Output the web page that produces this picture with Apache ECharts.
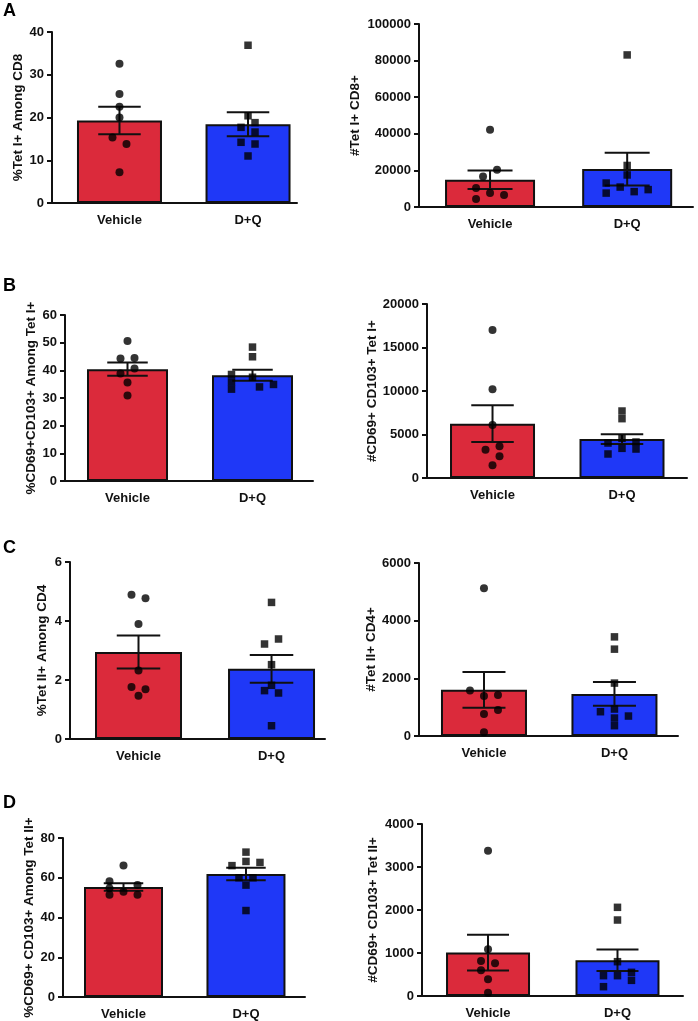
<!DOCTYPE html>
<html>
<head>
<meta charset="utf-8">
<script src="https://cdn.jsdelivr.net/npm/echarts@6/dist/echarts.min.js"></script>
<style>
html,body{margin:0;padding:0;background:#fff;}
#chart{width:698px;height:1021px;}
</style>
</head>
<body>
<div id="chart"></div>
<script>
// ---------- DATA ----------
const categories = ['Vehicle', 'D+Q'];
const panelLetters = ['A', 'B', 'C', 'D'];

// Panel A left
const aL_title = '%Tet I+ Among CD8';
const aL_mean = [19.3, 18.4];
const aL_sem = [3.2, 2.8];
const aL_veh = [32.6, 25.5, 22.5, 20.0, 15.3, 13.8, 7.2];
const aL_vehSlot = [0, 0, 0, 0, -1, 1, 0];
const aL_dq = [36.9, 20.4, 18.8, 17.7, 16.6, 14.2, 13.8, 11.0];
const aL_dqSlot = [0, 0, 1, -1, 1, -1, 1, 0];
const aL_yMax = 40, aL_yStep = 10;

// Panel A right
const aR_title = '#Tet I+ CD8+';
const aR_mean = [14900, 20700];
const aR_sem = [5000, 9000];
const aR_veh = [42200, 20400, 16700, 10400, 7600, 6500, 4400];
const aR_vehSlot = [0, 1, -1, -2, 0, 2, -2];
const aR_dq = [83100, 22700, 17500, 13100, 10900, 9500, 8400, 7600];
const aR_dqSlot = [0, 0, 0, -3, -1, 3, 1, -3];
const aR_yMax = 100000, aR_yStep = 20000;

// Panel B left
const bL_title = '%CD69+CD103+ Among Tet I+';
const bL_mean = [40.4, 38.2];
const bL_sem = [2.4, 2.0];
const bL_veh = [50.6, 44.3, 44.5, 40.7, 38.9, 35.6, 30.9];
const bL_vehSlot = [0, -1, 1, 1, -1, 0, 0];
const bL_dq = [48.4, 44.9, 38.5, 35.8, 33.2, 37.5, 34.0, 34.9];
const bL_dqSlot = [0, 0, -3, -3, -3, 0, 1, 3];
const bL_yMax = 60, bL_yStep = 10;

// Panel B right
const bR_title = '#CD69+ CD103+ Tet I+';
const bR_mean = [6250, 4480];
const bR_sem = [2100, 560];
const bR_veh = [17000, 10200, 6100, 3640, 3260, 2490, 1460];
const bR_vehSlot = [0, 0, 0, 1, -1, 1, 0];
const bR_dq = [7700, 6820, 4560, 4020, 4140, 3410, 3330, 2760];
const bR_dqSlot = [0, 0, 0, -2, 2, 0, 2, -2];
const bR_yMax = 20000, bR_yStep = 5000;

// Panel C left
const cL_title = '%Tet II+ Among CD4';
const cL_mean = [2.95, 2.38];
const cL_sem = [0.56, 0.47];
const cL_veh = [4.89, 4.77, 3.90, 2.32, 1.76, 1.69, 1.47];
const cL_vehSlot = [-1, 1, 0, 0, -1, 1, 0];
const cL_dq = [4.63, 3.39, 3.22, 2.52, 1.82, 1.64, 1.56, 0.45];
const cL_dqSlot = [0, 1, -1, 0, 0, -1, 1, 0];
const cL_yMax = 6, cL_yStep = 2;

// Panel C right
const cR_title = '#Tet II+ CD4+';
const cR_mean = [1600, 1460];
const cR_sem = [620, 415];
const cR_veh = [5123, 1581, 1385, 1419, 900, 762, 127];
const cR_vehSlot = [0, -2, 0, 2, 2, 0, 0];
const cR_dq = [3438, 3012, 1835, 935, 842, 692, 623, 358];
const cR_dqSlot = [0, 0, 0, 0, -2, 2, 0, 0];
const cR_yMax = 6000, cR_yStep = 2000;

// Panel D left
const dL_title = '%CD69+ CD103+ Among Tet II+';
const dL_mean = [55.3, 61.9];
const dL_sem = [1.9, 3.1];
const dL_veh = [66.2, 58.3, 54.7, 51.4, 52.9, 56.4, 51.4];
const dL_vehSlot = [0, -2, -2, -2, 0, 2, 2];
const dL_dq = [72.9, 68.2, 67.7, 66.1, 60.0, 60.0, 56.3, 43.5];
const dL_dqSlot = [0, 0, 2, -2, -1, 1, 0, 0];
const dL_yMax = 80, dL_yStep = 20;

// Panel D right
const dR_title = '#CD69+ CD103+ Tet II+';
const dR_mean = [1010, 830];
const dR_sem = [415, 250];
const dR_veh = [3380, 1085, 814, 760, 597, 388, 78];
const dR_vehSlot = [0, 0, -1, 1, -1, 0, 0];
const dR_dq = [2062, 1767, 798, 473, 473, 550, 364, 217];
const dR_dqSlot = [0, 0, 0, -2, 0, 2, 2, -2];
const dR_yMax = 4000, dR_yStep = 1000;

// ---------- LAYOUT (pixels) ----------
const panels = [
  {t: aL_title, m: aL_mean, s: aL_sem, v: aL_veh, vs: aL_vehSlot, d: aL_dq, ds: aL_dqSlot, max: aL_yMax, step: aL_yStep,
   L: 52, R: 297, T: 32, B: 203, xmin: -0.525, xmax: 1.381, bw: 85, gap: 24},
  {t: aR_title, m: aR_mean, s: aR_sem, v: aR_veh, vs: aR_vehSlot, d: aR_dq, ds: aR_dqSlot, max: aR_yMax, step: aR_yStep,
   L: 419, R: 693, T: 24, B: 207, xmin: -0.518, xmax: 1.48, bw: 90, gap: 57},
  {t: bL_title, m: bL_mean, s: bL_sem, v: bL_veh, vs: bL_vehSlot, d: bL_dq, ds: bL_dqSlot, max: bL_yMax, step: bL_yStep,
   L: 65, R: 313, T: 315, B: 481, xmin: -0.5, xmax: 1.484, bw: 81, gap: 25},
  {t: bR_title, m: bR_mean, s: bR_sem, v: bR_veh, vs: bR_vehSlot, d: bR_dq, ds: bR_dqSlot, max: bR_yMax, step: bR_yStep,
   L: 427, R: 687, T: 304, B: 478, xmin: -0.506, xmax: 1.502, bw: 85, gap: 47},
  {t: cL_title, m: cL_mean, s: cL_sem, v: cL_veh, vs: cL_vehSlot, d: cL_dq, ds: cL_dqSlot, max: cL_yMax, step: cL_yStep,
   L: 70, R: 325, T: 562, B: 739, xmin: -0.515, xmax: 1.402, bw: 87, gap: 21},
  {t: cR_title, m: cR_mean, s: cR_sem, v: cR_veh, vs: cR_vehSlot, d: cR_dq, ds: cR_dqSlot, max: cR_yMax, step: cR_yStep,
   L: 419, R: 678, T: 563, B: 736, xmin: -0.498, xmax: 1.487, bw: 86, gap: 40},
  {t: dL_title, m: dL_mean, s: dL_sem, v: dL_veh, vs: dL_vehSlot, d: dL_dq, ds: dL_dqSlot, max: dL_yMax, step: dL_yStep,
   L: 63, R: 305, T: 838, B: 999, xmin: -0.494, xmax: 1.482, bw: 79, gap: 26},
  {t: dR_title, m: dR_mean, s: dR_sem, v: dR_veh, vs: dR_vehSlot, d: dR_dq, ds: dR_dqSlot, max: dR_yMax, step: dR_yStep,
   L: 422, R: 683, T: 824, B: 996, xmin: -0.51, xmax: 1.506, bw: 84, gap: 42}
];
const letterTops = [2, 277, 539, 794];

const RED = '#DB2A3B';
const BLUE = '#1F38F7';
const FONT = '"Liberation Sans", Arial, sans-serif';
const SLOT_PX = 7;

const grid = [], xAxis = [], yAxis = [], series = [];
panels.forEach((p, i) => {
  const w = p.R - p.L, h = p.B - p.T;
  grid.push({left: p.L, top: p.T, width: w, height: h, containLabel: false});
  xAxis.push({
    type: 'value', gridIndex: i, min: p.xmin, max: p.xmax,
    splitLine: {show: false},
    axisLine: {show: true, onZero: false, lineStyle: {color: '#111', width: 2}},
    axisTick: {show: false},
    axisLabel: {
      show: true, customValues: [0, 1], margin: 11,
      formatter: (val) => categories[Math.round(val)],
      color: '#111', fontWeight: 'bold', fontSize: 13, fontFamily: FONT
    }
  });
  yAxis.push({
    type: 'value', gridIndex: i, min: 0, max: p.max, interval: p.step,
    name: p.t, nameLocation: 'middle', nameGap: p.gap, nameRotate: 90,
    nameTextStyle: {color: '#111', fontWeight: 'bold', fontSize: 13.5, fontFamily: FONT},
    splitLine: {show: false},
    axisLine: {show: true, onZero: false, lineStyle: {color: '#111', width: 2}},
    axisTick: {show: true, length: 5, lineStyle: {color: '#111', width: 2}},
    axisLabel: {color: '#111', fontWeight: 'bold', fontSize: 13, fontFamily: FONT, margin: 8,
      formatter: (val) => String(val)}
  });
  const dx = SLOT_PX * (p.xmax - p.xmin) / w;
  series.push({
    type: 'bar', xAxisIndex: i, yAxisIndex: i, barWidth: p.bw, z: 1,
    data: p.m.map((v, k) => ({value: [k, v], itemStyle: {color: k === 0 ? RED : BLUE}})),
    itemStyle: {borderColor: '#111', borderWidth: 2},
    silent: true
  });
  const cap = p.bw * 0.25;
  series.push({
    type: 'custom', xAxisIndex: i, yAxisIndex: i, z: 2, silent: true,
    data: p.m.map((v, k) => [k, v, p.s[k]]),
    renderItem: (params, api) => {
      const x = api.value(0), m = api.value(1), s = api.value(2);
      const top = api.coord([x, m + s]);
      const bot = api.coord([x, m - s]);
      const st = {stroke: '#111', lineWidth: 2};
      return {type: 'group', children: [
        {type: 'line', shape: {x1: top[0], y1: top[1], x2: bot[0], y2: bot[1]}, style: st},
        {type: 'line', shape: {x1: top[0] - cap, y1: top[1], x2: top[0] + cap, y2: top[1]}, style: st},
        {type: 'line', shape: {x1: bot[0] - cap, y1: bot[1], x2: bot[0] + cap, y2: bot[1]}, style: st}
      ]};
    }
  });
  series.push({
    type: 'scatter', xAxisIndex: i, yAxisIndex: i, z: 3, silent: true,
    symbol: 'circle', symbolSize: 8, itemStyle: {color: '#000'},
    data: p.v.map((v, k) => [0 + p.vs[k] * dx, v])
  });
  series.push({
    type: 'scatter', xAxisIndex: i, yAxisIndex: i, z: 3, silent: true,
    symbol: 'rect', symbolSize: 7.5, itemStyle: {color: '#000'},
    data: p.d.map((v, k) => [1 + p.ds[k] * dx, v])
  });
});

const title = panelLetters.map((L, k) => ({
  text: L, left: 3, top: letterTops[k], padding: 0,
  textStyle: {fontSize: 18, fontWeight: 'bold', color: '#000', fontFamily: FONT}
}));

const chart = echarts.init(document.getElementById('chart'), null, {renderer: 'canvas'});
chart.setOption({
  animation: false,
  backgroundColor: '#fff',
  title, grid, xAxis, yAxis, series
});
</script>
</body>
</html>
